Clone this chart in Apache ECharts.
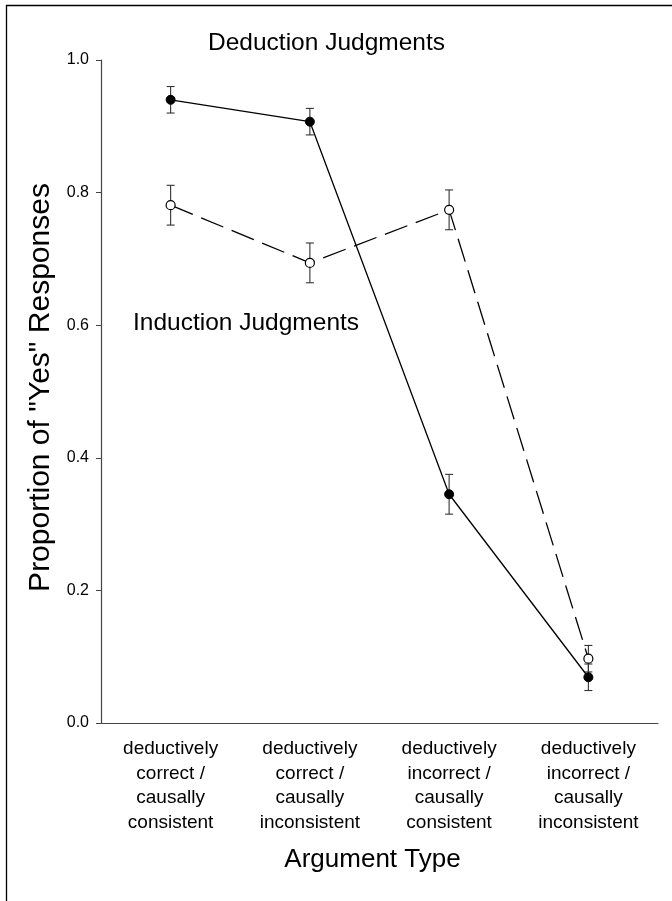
<!DOCTYPE html>
<html>
<head>
<meta charset="utf-8">
<style>
html,body{margin:0;padding:0;background:#fff;}
#chart{width:672px;height:901px;}
</style>
<script src="https://cdn.jsdelivr.net/npm/echarts@6/dist/echarts.min.js"></script>
</head>
<body>
<div id="chart"></div>
<script>
var categories = [
  "deductively\ncorrect /\ncausally\nconsistent",
  "deductively\ncorrect /\ncausally\ninconsistent",
  "deductively\nincorrect /\ncausally\nconsistent",
  "deductively\nincorrect /\ncausally\ninconsistent"
];
var deduction = [0.940, 0.907, 0.345, 0.069];
var deductionErr = [0.020, 0.020, 0.030, 0.020];
var induction = [0.781, 0.694, 0.774, 0.097];
var inductionErr = [0.030, 0.030, 0.030, 0.020];
var yTicks = [0.0, 0.2, 0.4, 0.6, 0.8, 1.0];

function errData(vals, errs) {
  return vals.map(function (v, i) { return [i, v - errs[i], v + errs[i]]; });
}

function errRender(params, api) {
  var x = api.value(0);
  var lo = api.coord([x, api.value(1)]);
  var hi = api.coord([x, api.value(2)]);
  var w = 4;
  var st = { stroke: '#333', lineWidth: 1.1 };
  return {
    type: 'group',
    children: [
      { type: 'line', shape: { x1: hi[0], y1: hi[1], x2: lo[0], y2: lo[1] }, style: st },
      { type: 'line', shape: { x1: hi[0] - w, y1: hi[1], x2: hi[0] + w, y2: hi[1] }, style: st },
      { type: 'line', shape: { x1: lo[0] - w, y1: lo[1], x2: lo[0] + w, y2: lo[1] }, style: st }
    ]
  };
}

var chart = echarts.init(document.getElementById('chart'), null, { renderer: 'canvas' });
var font = '"Liberation Sans", Arial, Helvetica, sans-serif';
chart.setOption({
  backgroundColor: '#fff',
  animation: false,
  grid: { left: 101, right: 14, top: 60, bottom: 178 },
  xAxis: {
    type: 'category',
    data: categories,
    boundaryGap: true,
    axisLine: { lineStyle: { color: '#444', width: 1.2 } },
    axisTick: { alignWithLabel: true, length: 5, lineStyle: { color: '#444' } },
    axisLabel: { interval: 0, color: '#000', fontFamily: font, fontSize: 19, lineHeight: 24.5, margin: 14 },
    name: 'Argument Type',
    nameLocation: 'middle',
    nameGap: 124,
    nameTextStyle: { color: '#000', fontFamily: font, fontSize: 26, padding: [0, 14, 0, 0] }
  },
  yAxis: {
    type: 'value',
    min: 0, max: 1, interval: 0.2,
    splitLine: { show: false },
    axisLine: { show: true, lineStyle: { color: '#444', width: 1.2 } },
    axisTick: { show: true, length: 5, lineStyle: { color: '#444' } },
    axisLabel: {
      color: '#000', fontFamily: font, fontSize: 16, margin: 12,
      formatter: function (v) {
        var t = yTicks.filter(function (y) { return Math.abs(y - v) < 1e-9; });
        return t.length ? t[0].toFixed(1) : '';
      }
    },
    name: 'Proportion of "Yes" Responses',
    nameLocation: 'middle',
    nameGap: 45,
    nameTextStyle: { color: '#000', fontFamily: font, fontSize: 30, padding: [0, 0, 0, 8] }
  },
  series: [
    {
      type: 'custom', name: 'dedErr', renderItem: errRender,
      data: errData(deduction, deductionErr), z: 1,
      encode: { x: 0, y: [1, 2] }
    },
    {
      type: 'custom', name: 'indErr', renderItem: errRender,
      data: errData(induction, inductionErr), z: 1,
      encode: { x: 0, y: [1, 2] }
    },
    {
      type: 'line', name: 'Deduction Judgments', data: deduction, z: 3,
      symbol: 'circle', symbolSize: 9,
      lineStyle: { color: '#000', width: 1.3 },
      itemStyle: { color: '#000', borderColor: '#000', borderWidth: 1 }
    },
    {
      type: 'line', name: 'Induction Judgments', data: induction, z: 3,
      symbol: 'circle', symbolSize: 9,
      lineStyle: { color: '#000', width: 1.3, type: [24, 9] },
      itemStyle: { color: '#fff', borderColor: '#000', borderWidth: 1.2 }
    }
  ],
  graphic: [
    { type: 'text', left: 208, top: 31, style: { text: 'Deduction Judgments', font: '24.5px ' + font, fill: '#000' } },
    { type: 'text', left: 133, top: 311, style: { text: 'Induction Judgments', font: '24.5px ' + font, fill: '#000' } },
    { type: 'line', shape: { x1: 6, y1: 5.5, x2: 672, y2: 5.5 }, style: { stroke: '#000', lineWidth: 1.3 } },
    { type: 'line', shape: { x1: 6.5, y1: 5, x2: 6.5, y2: 901 }, style: { stroke: '#000', lineWidth: 1.3 } }
  ]
});
</script>
</body>
</html>
